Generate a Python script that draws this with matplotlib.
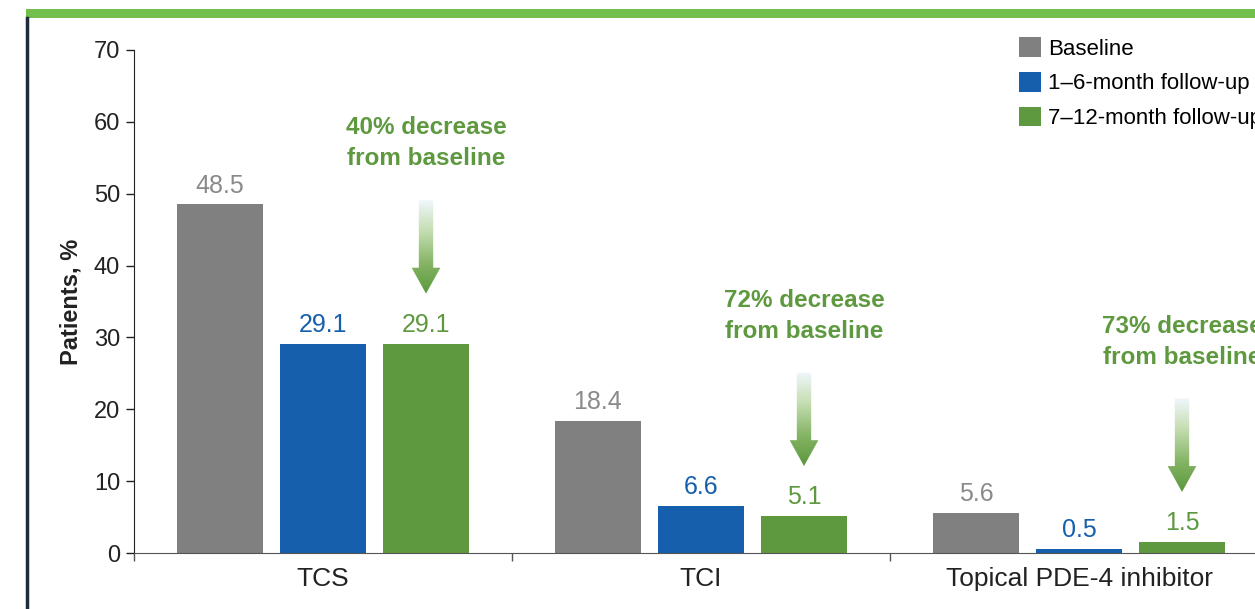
import numpy as np
import matplotlib
matplotlib.use("Agg")
import matplotlib.pyplot as plt
from matplotlib.patches import Polygon, Rectangle
from matplotlib.colors import LinearSegmentedColormap
from matplotlib.lines import Line2D

plt.rcParams['font.family'] = ['Liberation Sans Narrow', 'Liberation Sans', 'DejaVu Sans']

# data
categories = ["TCS", "TCI", "Topical PDE-4 inhibitor"]
series_names = ["Baseline", "1\u20136-month follow-up", "7\u201312-month follow-up"]
baseline = [48.5, 18.4, 5.6]
followup_1_6 = [29.1, 6.6, 0.5]
followup_7_12 = [29.1, 5.1, 1.5]
decrease_labels = ["40% decrease\nfrom baseline", "72% decrease\nfrom baseline", "73% decrease\nfrom baseline"]

bar_colors = ["#808080", "#155fac", "#5e9940"]
label_colors = ["#8a8a8a", "#155fac", "#5e9940"]
green_text = "#5e9940"

fig = plt.figure(figsize=(12.55, 6.09), dpi=100)

# poster frame: green rule on top, dark line on the left
fig.add_artist(Rectangle((26 / 1255, 1 - 18 / 609), 1.0, 9 / 609, transform=fig.transFigure,
                         color="#72bf4b", lw=0))
fig.add_artist(Line2D([27 / 1255, 27 / 1255], [0, 1 - 18 / 609], transform=fig.transFigure,
                      color="#1e2b3a", lw=2.5))

ax = fig.add_axes([134 / 1255, 56 / 609, 1134 / 1255, 503 / 609])

x = np.arange(len(categories))
step = 0.2725
width = 0.2275
all_series = [baseline, followup_1_6, followup_7_12]
for i, vals in enumerate(all_series):
    xs = x + (i - 1) * step
    ax.bar(xs, vals, width, color=bar_colors[i], label=series_names[i], zorder=2)
    for xx, v in zip(xs, vals):
        ax.annotate(f"{v}", (xx, v), xytext=(0, 5), textcoords="offset points",
                    ha="center", va="bottom", fontsize=18, color=label_colors[i])

ax.set_xlim(-0.5, 2.5)
ax.set_ylim(0, 70)
ax.set_yticks(range(0, 71, 10))
ax.tick_params(axis="y", labelsize=17, length=6, width=1, colors="#222222", pad=4)
ax.set_xticks([-0.5, 0.5, 1.5, 2.5])
ax.set_xticklabels([])
ax.tick_params(axis="x", which="major", length=6, width=1, color="#555555")
ax.set_xticks(x, minor=True)
ax.set_xticklabels(categories, minor=True, fontsize=19, color="#222222")
ax.tick_params(axis="x", which="minor", length=0, pad=10)
ax.spines["top"].set_visible(False)
ax.spines["right"].set_visible(False)
ax.spines["left"].set_color("#222222")
ax.spines["bottom"].set_color("#555555")
ax.set_ylabel("Patients, %", fontsize=17, fontweight="bold", color="#222222", labelpad=8)

# gradient arrows and decrease notes
cmap = LinearSegmentedColormap.from_list("arr", ["#f0f7fc", "#c4ddb0", "#86b566", "#5a983b"])
grad = np.linspace(0, 1, 256).reshape(-1, 1)
shaft = 0.019
head = 0.038
head_len = 3.6
for i in range(len(categories)):
    xc = x[i] + step
    top = followup_7_12[i] + 20.0
    tip = followup_7_12[i] + 7.0
    verts = [(xc - shaft, top), (xc + shaft, top), (xc + shaft, tip + head_len),
             (xc + head, tip + head_len), (xc, tip), (xc - head, tip + head_len),
             (xc - shaft, tip + head_len)]
    poly = Polygon(verts, closed=True, facecolor="none", edgecolor="none")
    ax.add_patch(poly)
    im = ax.imshow(grad, cmap=cmap, aspect="auto", extent=(xc - head, xc + head, tip, top),
                   origin="upper", zorder=3)
    im.set_clip_path(poly)
    ax.text(xc, top + 7.9, decrease_labels[i], ha="center", va="center", fontsize=17.5,
            fontweight="bold", color=green_text, linespacing=1.45)

ax.set_xlim(-0.5, 2.5)
ax.set_ylim(0, 70)

leg = ax.legend(loc="upper left", frameon=False, fontsize=16,
                handlelength=1.0, handleheight=1.0, handletextpad=0.3, labelspacing=0.55,
                borderaxespad=0, borderpad=0)
leg.set_bbox_to_anchor((1019 / 1255, 1 - 37 / 609), transform=fig.transFigure)

fig.savefig("out.png", dpi=100)
